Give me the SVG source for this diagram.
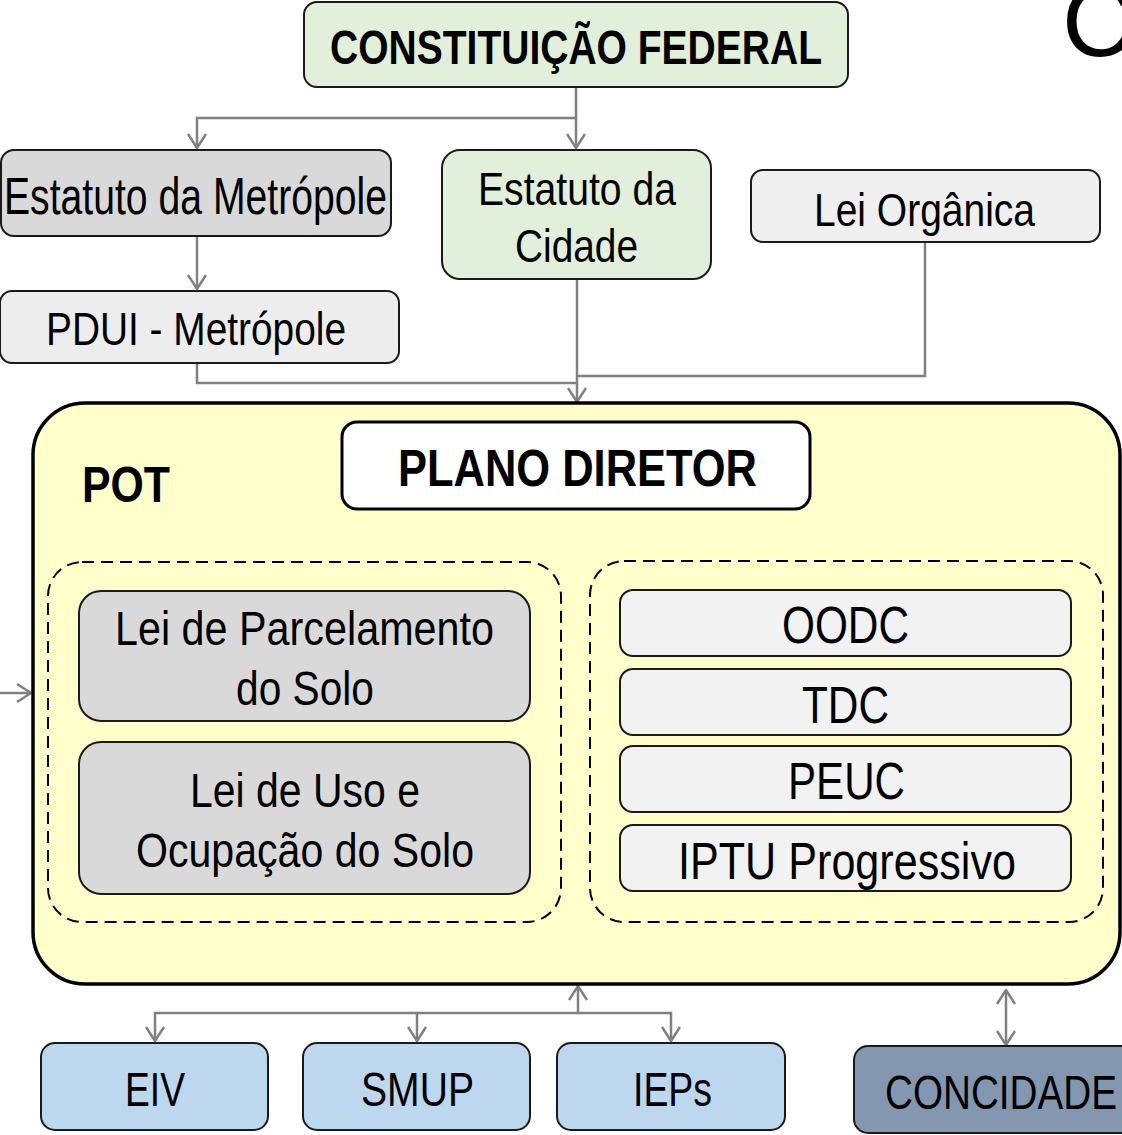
<svg xmlns="http://www.w3.org/2000/svg" width="1122" height="1135" viewBox="0 0 1122 1135">
<style>
.t{font-family:"Liberation Sans",Arial,sans-serif;fill:#000}
.b{font-weight:bold}
.box{stroke:#1a1a1a;stroke-width:2}
.con{fill:none;stroke:#808080;stroke-width:2.5}
.dash{fill:none;stroke:#000;stroke-width:2;stroke-dasharray:12 7}
</style>
<defs>
<marker id="arr" viewBox="0 0 16 20" refX="15" refY="10" markerWidth="16" markerHeight="20" markerUnits="userSpaceOnUse" orient="auto-start-reverse">
<path d="M1,1 L15,10 L1,19" fill="none" stroke="#808080" stroke-width="2.5"/>
</marker>
</defs>
<rect width="1122" height="1135" fill="#fff"/>
<text class="t" x="1062" y="56" font-size="100">C</text>

<g id="connectors">
<path class="con" d="M576,87 V118 H197 V148" marker-end="url(#arr)"/>
<path class="con" d="M576,118 V148" marker-end="url(#arr)"/>
<path class="con" d="M197,236 V289" marker-end="url(#arr)"/>
<path class="con" d="M197,363 V383 H577"/>
<path class="con" d="M925,242 V376 H577"/>
<path class="con" d="M577,279 V402" marker-end="url(#arr)"/>
<path class="con" d="M577,509 V535 H305 V560" marker-end="url(#arr)"/>
<path class="con" d="M577,535 H846 V560" marker-end="url(#arr)"/>
<path class="con" d="M0,693 H31" marker-end="url(#arr)"/>
<path class="con" d="M578,1013 V986" marker-end="url(#arr)"/>
<path class="con" d="M578,1013 H155 V1041" marker-end="url(#arr)"/>
<path class="con" d="M578,1013 H671 V1041" marker-end="url(#arr)"/>
<path class="con" d="M417,1013 V1041" marker-end="url(#arr)"/>
<path class="con" d="M1006,990 V1045" marker-start="url(#arr)" marker-end="url(#arr)"/>
</g>

<g id="constituicao">
<rect class="box" x="304" y="2" width="544" height="85" rx="13" fill="#e2efda"/>
<text class="t b" x="330" y="64" font-size="49" textLength="492" lengthAdjust="spacingAndGlyphs">CONSTITUIÇÃO FEDERAL</text>
</g>
<g id="estatuto-metropole">
<rect class="box" x="1" y="150" width="390" height="86" rx="13" fill="#d9d9d9"/>
<text class="t" x="4" y="214" font-size="52" textLength="383" lengthAdjust="spacingAndGlyphs">Estatuto da Metrópole</text>
</g>
<g id="estatuto-cidade">
<rect class="box" x="442" y="150" width="269" height="129" rx="18" fill="#e2efda"/>
<text class="t" x="478" y="205" font-size="47" textLength="198" lengthAdjust="spacingAndGlyphs">Estatuto da</text>
<text class="t" x="515" y="262" font-size="47" textLength="123" lengthAdjust="spacingAndGlyphs">Cidade</text>
</g>
<g id="lei-organica">
<rect class="box" x="751" y="170" width="349" height="72" rx="12" fill="#efefef"/>
<text class="t" x="814" y="226" font-size="47" textLength="221" lengthAdjust="spacingAndGlyphs">Lei Orgânica</text>
</g>
<g id="pdui">
<rect class="box" x="0" y="291" width="399" height="72" rx="12" fill="#ededed"/>
<text class="t" x="46" y="345" font-size="46" textLength="300" lengthAdjust="spacingAndGlyphs">PDUI - Metrópole</text>
</g>

<g id="pot">
<rect x="33" y="403" width="1087" height="581" rx="52" fill="#ffffcc" stroke="#000" stroke-width="3.5"/>
<text class="t b" x="82" y="502" font-size="50" textLength="88" lengthAdjust="spacingAndGlyphs">POT</text>
</g>
<g id="plano-diretor">
<rect x="342" y="422" width="468" height="87" rx="15" fill="#fff" stroke="#000" stroke-width="3"/>
<text class="t b" x="398" y="486" font-size="52" textLength="359" lengthAdjust="spacingAndGlyphs">PLANO DIRETOR</text>
</g>
<g id="grupo-leis">
<rect class="dash" x="48" y="562" width="513" height="360" rx="34"/>
</g>
<g id="grupo-instrumentos">
<rect class="dash" x="590" y="561" width="513" height="361" rx="34"/>
</g>
<g id="lei-parcelamento">
<rect class="box" x="79" y="591" width="451" height="130" rx="22" fill="#d9d9d9"/>
<text class="t" x="115" y="645" font-size="49" textLength="379" lengthAdjust="spacingAndGlyphs">Lei de Parcelamento</text>
<text class="t" x="236" y="705" font-size="49" textLength="138" lengthAdjust="spacingAndGlyphs">do Solo</text>
</g>
<g id="lei-uso">
<rect class="box" x="79" y="742" width="451" height="152" rx="22" fill="#d9d9d9"/>
<text class="t" x="190" y="807" font-size="49" textLength="230" lengthAdjust="spacingAndGlyphs">Lei de Uso e</text>
<text class="t" x="136" y="867" font-size="49" textLength="338" lengthAdjust="spacingAndGlyphs">Ocupação do Solo</text>
</g>
<g id="oodc">
<rect class="box" x="620" y="590" width="451" height="66" rx="13" fill="#f2f2f2"/>
<text class="t" x="782" y="643" font-size="52" textLength="127" lengthAdjust="spacingAndGlyphs">OODC</text>
</g>
<g id="tdc">
<rect class="box" x="620" y="669" width="451" height="66" rx="13" fill="#f2f2f2"/>
<text class="t" x="802" y="723" font-size="52" textLength="87" lengthAdjust="spacingAndGlyphs">TDC</text>
</g>
<g id="peuc">
<rect class="box" x="620" y="746" width="451" height="66" rx="13" fill="#f2f2f2"/>
<text class="t" x="788" y="799" font-size="52" textLength="117" lengthAdjust="spacingAndGlyphs">PEUC</text>
</g>
<g id="iptu">
<rect class="box" x="620" y="825" width="451" height="66" rx="13" fill="#f2f2f2"/>
<text class="t" x="678" y="879" font-size="52" textLength="338" lengthAdjust="spacingAndGlyphs">IPTU Progressivo</text>
</g>

<g id="eiv">
<rect class="box" x="41" y="1043" width="227" height="87" rx="14" fill="#bdd7ee"/>
<text class="t" x="125" y="1106" font-size="48" textLength="60" lengthAdjust="spacingAndGlyphs">EIV</text>
</g>
<g id="smup">
<rect class="box" x="303" y="1043" width="227" height="87" rx="14" fill="#bdd7ee"/>
<text class="t" x="361" y="1106" font-size="48" textLength="113" lengthAdjust="spacingAndGlyphs">SMUP</text>
</g>
<g id="ieps">
<rect class="box" x="557" y="1043" width="228" height="87" rx="14" fill="#bdd7ee"/>
<text class="t" x="633" y="1106" font-size="48" textLength="79" lengthAdjust="spacingAndGlyphs">IEPs</text>
</g>
<g id="concidade">
<rect class="box" x="854" y="1046" width="290" height="87" rx="14" fill="#8497b0"/>
<text class="t" x="885" y="1109" font-size="48" textLength="232" lengthAdjust="spacingAndGlyphs">CONCIDADE</text>
</g>
</svg>
